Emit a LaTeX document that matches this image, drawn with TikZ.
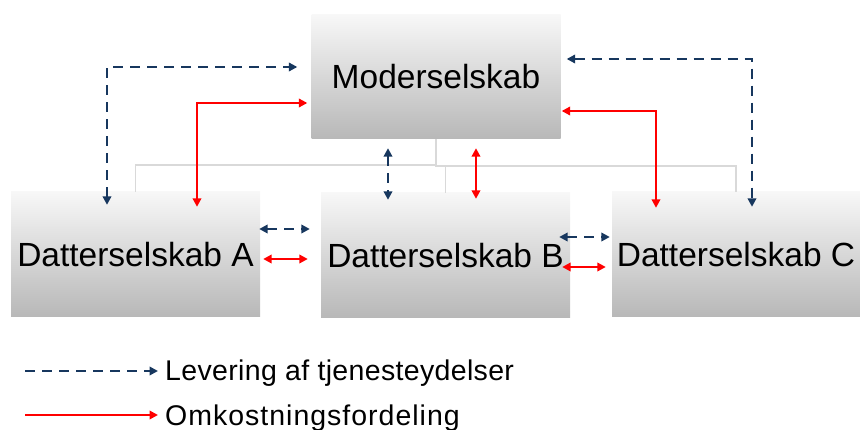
\documentclass[tikz,border=0pt]{standalone}
\usepackage{fontspec}
\setmainfont{Liberation Sans}
\newfontfamily\legfont[LetterSpace=1.2]{Liberation Sans}
\newfontfamily\legfontb[LetterSpace=3.5]{Liberation Sans}
\usetikzlibrary{arrows.meta,calc}
\definecolor{navy}{HTML}{17375E}
\definecolor{redline}{HTML}{FF0000}
\definecolor{orggray}{HTML}{D9D9D9}
\tikzset{
  box/.style={rectangle, inner sep=0pt, top color=white!97!black, bottom color=white!72!black,
    font=\fontsize{33.5}{40}\selectfont, text=black},
  svc/.style={draw=navy, line width=2.9pt, dash pattern=on 10pt off 7pt,
    {Triangle[length=8.5pt,width=8.5pt]}-{Triangle[length=8.5pt,width=8.5pt]}},
  cost/.style={draw=redline, line width=2.9pt,
    {Triangle[length=8.5pt,width=8.5pt]}-{Triangle[length=8.5pt,width=8.5pt]}},
  orgline/.style={draw=orggray, line width=1.5pt},
  legtext/.style={anchor=base west, inner sep=0pt}
}
\begin{document}
\begin{tikzpicture}[x=1pt,y=-1pt]
\useasboundingbox (0,0) rectangle (860,430);
% boxes
\node[box, minimum width=249pt, minimum height=124pt] (M) at (436,77) {Moderselskab};
\node[box, minimum width=249pt, minimum height=125pt] (A) at (135.5,254.5) {Datterselskab A};
\node[box, minimum width=249pt, minimum height=125pt] (B) at (445.5,255.5) {Datterselskab B};
\node[box, minimum width=248pt, minimum height=125pt] (C) at (736,254.5) {Datterselskab C};
% org chart lines
\draw[orgline] (M.south) |- ($(A.north)+(0,-27)$) -- (A.north);
\draw[orgline] (M.south) |- ($(C.north)+(0,-26)$) -- (C.north);
\draw[orgline] ($(M.south)+(0,27)$) -| (B.north);
% service arrows
\draw[svc] ($(A.north)+(-28.5,13)$) |- ($(M.west)+(-14,-10)$);
\draw[svc] ($(M.east)+(6,-18)$) -| ($(C.north)+(16,15)$);
\draw[svc] ($(M.south)+(-48,9)$) -- ($(B.north)+(-57.5,7)$);
\draw[svc] ($(A.east)+(-1,-25.5)$) -- ($(B.west)+(-11,-26.5)$);
\draw[svc] ($(B.east)+(-11,-18.5)$) -- ($(C.west)+(-2,-17.5)$);
% cost arrows
\draw[cost] ($(A.north)+(61.5,15)$) |- ($(M.west)+(-4,26)$);
\draw[cost] ($(M.east)+(1,34)$) -| ($(C.north)+(-80,16)$);
\draw[cost] ($(M.south)+(40,9)$) -- ($(B.north)+(30.5,6)$);
\draw[cost] ($(A.east)+(3,4.5)$) -- ($(B.west)+(-13,3.5)$);
\draw[cost] ($(B.east)+(-8,11.5)$) -- ($(C.west)+(-6,12.5)$);
% legend
\coordinate (l1a) at (25,371);
\coordinate (l1b) at (158,371);
\coordinate (l2a) at (25,415);
\coordinate (l2b) at (158,415);
\draw[draw=navy, line width=2.9pt, dash pattern=on 10pt off 7pt, -{Triangle[length=8.5pt,width=8.5pt]}] (l1a) -- (l1b);
\draw[draw=redline, line width=2.9pt, -{Triangle[length=8.5pt,width=8.5pt]}] (l2a) -- (l2b);
\node[legtext, font=\legfont\fontsize{28.5}{32}\selectfont] (t1) at (165,381) {Levering af tjenesteydelser};
\node[legtext, font=\legfontb\fontsize{28.5}{32}\selectfont] (t2) at (165,425) {Omkostningsfordeling};
\end{tikzpicture}
\end{document}
